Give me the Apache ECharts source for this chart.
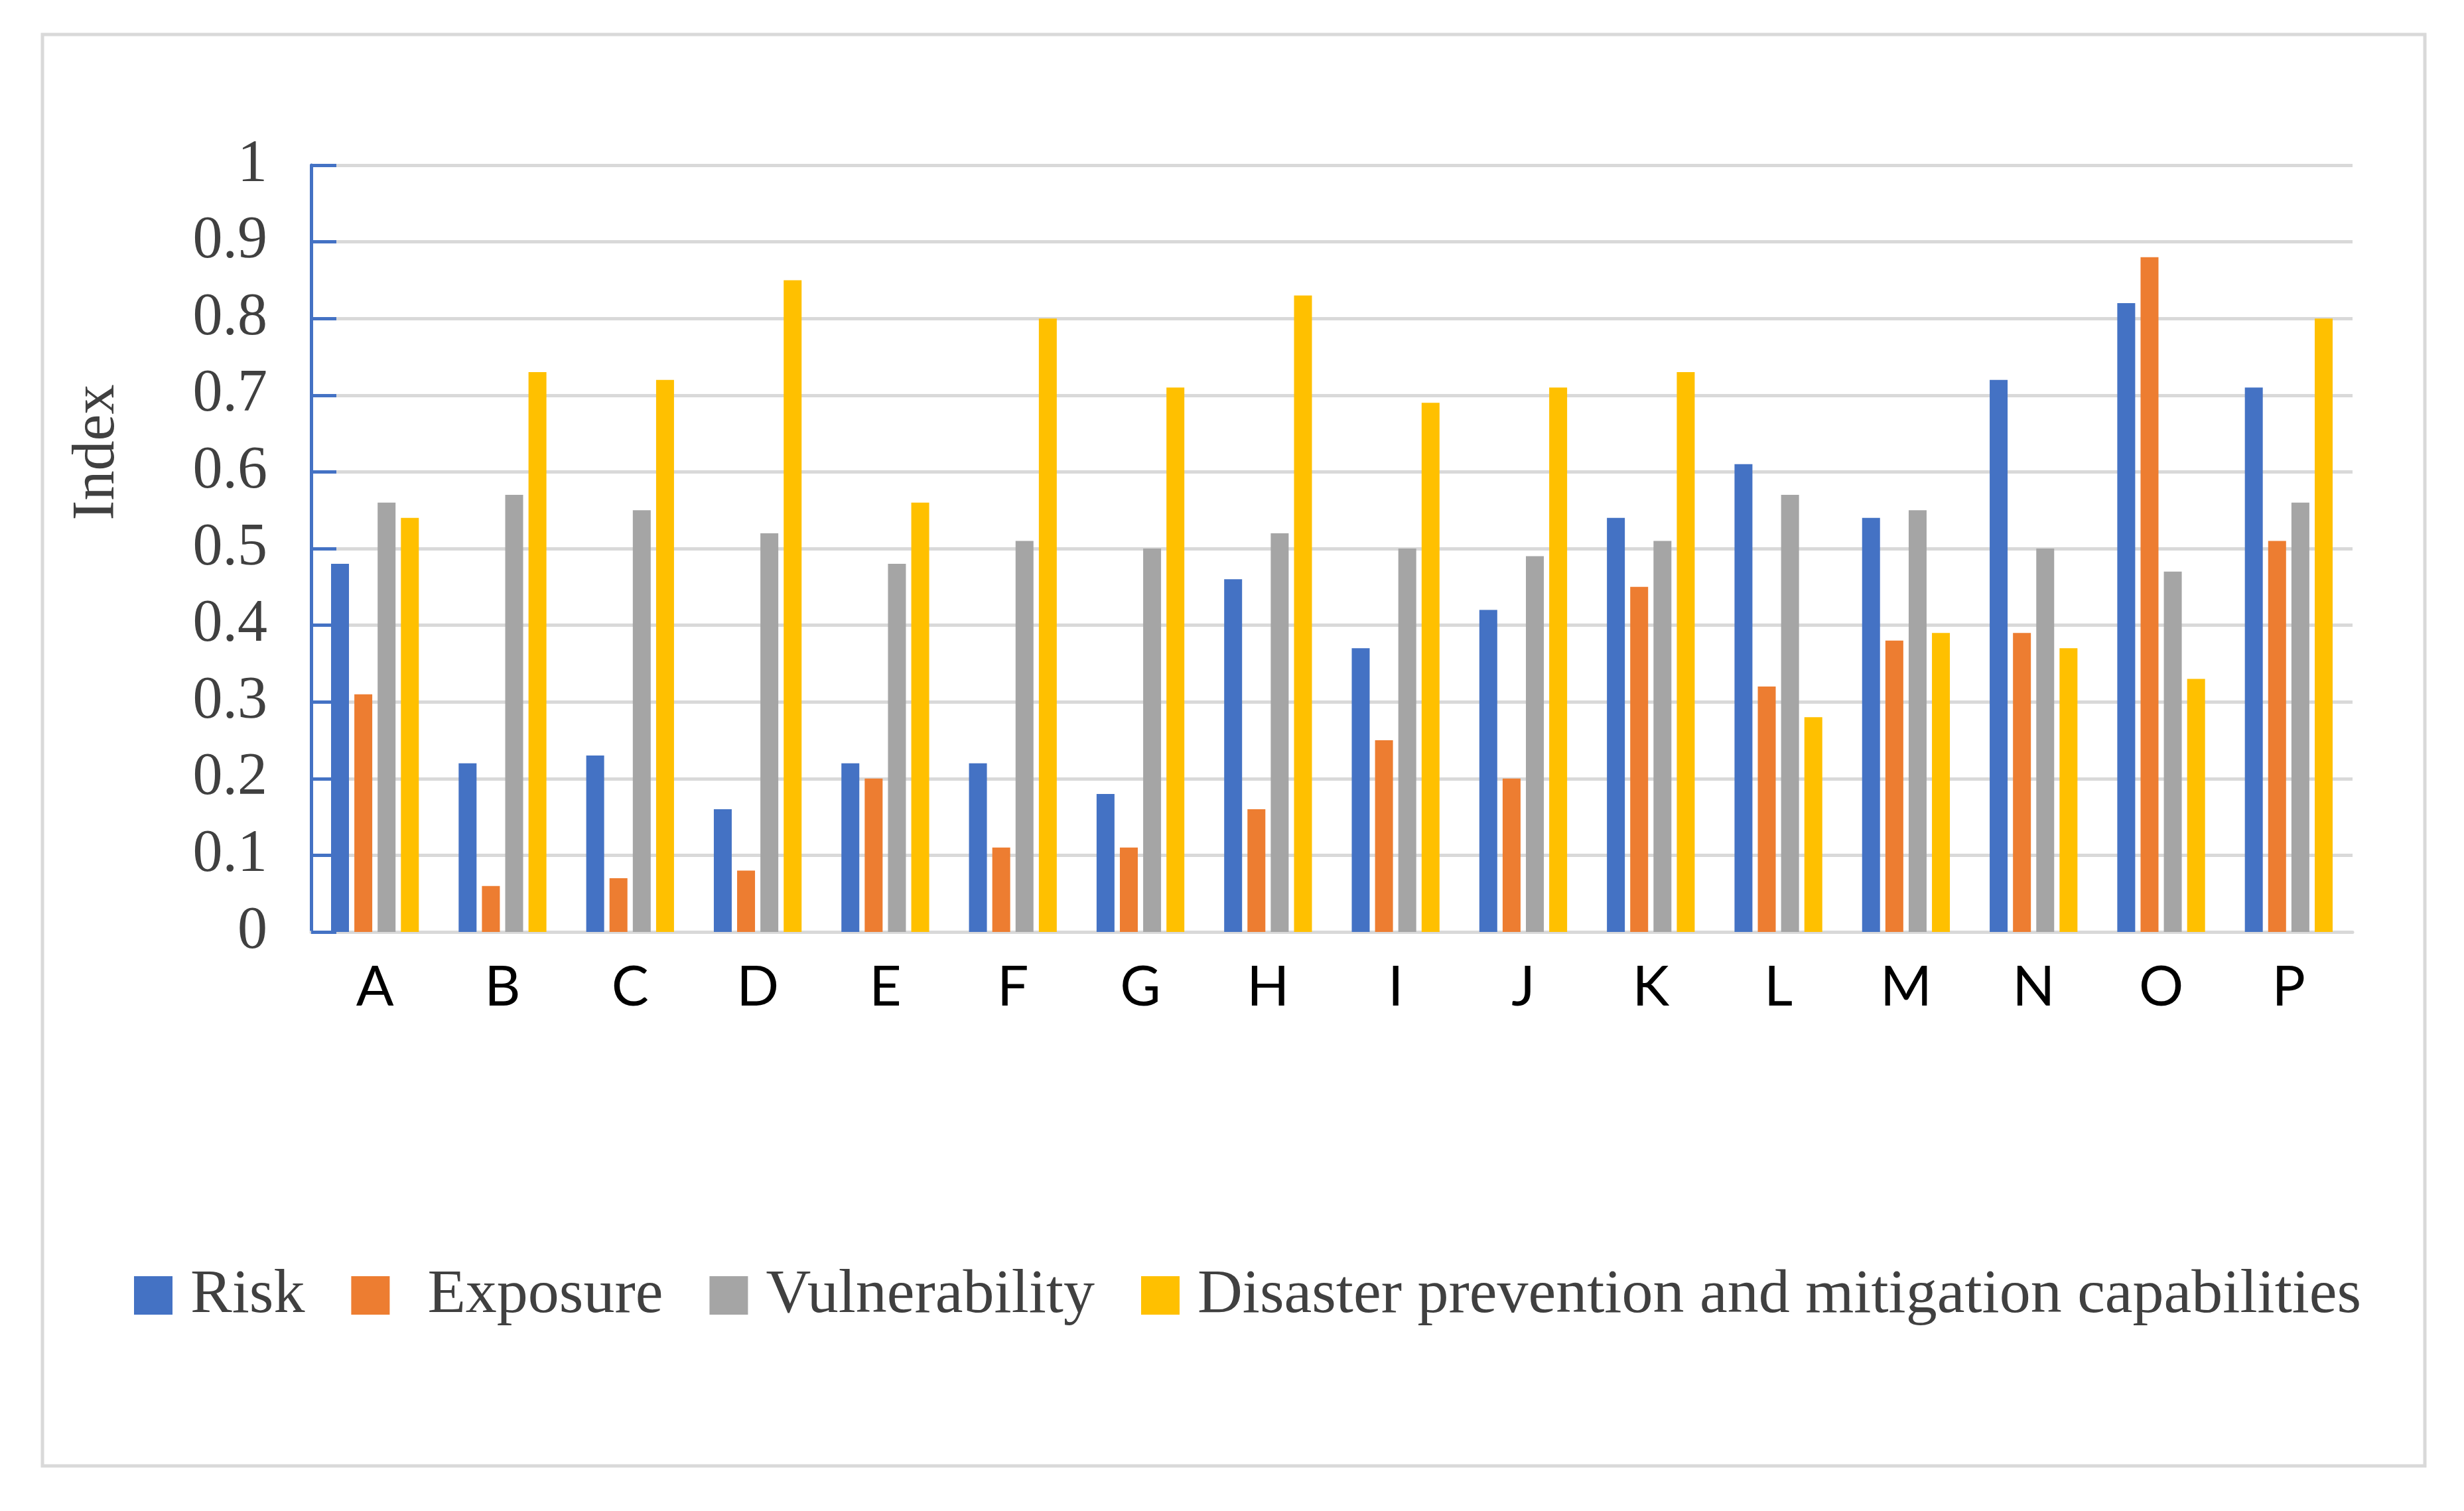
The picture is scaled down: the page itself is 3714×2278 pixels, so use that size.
<!DOCTYPE html>
<html>
<head>
<meta charset="utf-8">
<script src="https://cdn.jsdelivr.net/npm/echarts@6/dist/echarts.min.js"></script>
<style>
  html, body { margin: 0; padding: 0; background: #fff; }
  #chart { width: 3714px; height: 2278px; }
</style>
</head>
<body>
<div id="chart"></div>
<script>
// categories and series values
var regions = ['A','B','C','D','E','F','G','H','I','J','K','L','M','N','O','P'];
var risk          = [0.48,0.22,0.23,0.16,0.22,0.22,0.18,0.46,0.37,0.42,0.54,0.61,0.54,0.72,0.82,0.71];
var exposure      = [0.31,0.06,0.07,0.08,0.20,0.11,0.11,0.16,0.25,0.20,0.45,0.32,0.38,0.39,0.88,0.51];
var vulnerability = [0.56,0.57,0.55,0.52,0.48,0.51,0.50,0.52,0.50,0.49,0.51,0.57,0.55,0.50,0.47,0.56];
var capability    = [0.54,0.73,0.72,0.85,0.56,0.80,0.71,0.83,0.69,0.71,0.73,0.28,0.39,0.37,0.33,0.80];
var seriesNames = ['Risk','Exposure','Vulnerability','Disaster prevention and mitigation capabilities'];
var colors = ['#4472C4','#ED7D31','#A5A5A5','#FFC000'];

var serif = '"Liberation Serif", "DejaVu Serif", serif';
var chart = echarts.init(document.getElementById('chart'));

function bar(name, data){
  return {
    name: name,
    type: 'bar',
    data: data,
    barWidth: 27,
    barGap: '30%',
    animation: false
  };
}

var option = {
  color: colors,
  animation: false,
  grid: { left: 469, right: 168, top: 249, bottom: 873, containLabel: false },
  graphic: [
    {
      type: 'rect',
      shape: { x: 64, y: 52, width: 3591, height: 2158 },
      style: { fill: 'none', stroke: '#D9D9D9', lineWidth: 5 },
      silent: true
    },
    {
      type: 'text',
      x: 147, y: 682,
      rotation: Math.PI / 2,
      style: {
        text: 'Index',
        font: '90px ' + serif,
        fill: '#404040',
        textAlign: 'center',
        textVerticalAlign: 'middle'
      }
    }
  ],
  legend: {
    left: 197,
    top: 1901,
    icon: 'rect',
    itemWidth: 58,
    itemHeight: 58,
    itemGap: 70,
    textStyle: { fontFamily: serif, fontSize: 94, color: '#404040', padding: [0,0,0,22] },
    data: [
      { name: seriesNames[0] },
      { name: seriesNames[1], textStyle: { padding: [0,0,0,52] } },
      { name: seriesNames[2] },
      { name: seriesNames[3] }
    ]
  },
  xAxis: {
    type: 'category',
    data: regions,
    axisLine: { show: true, lineStyle: { color: '#D9D9D9', width: 5 } },
    axisTick: { show: false },
    axisLabel: { fontFamily: 'Lato, "Open Sans", sans-serif', fontSize: 84, color: '#000', margin: 42 }
  },
  yAxis: {
    type: 'value',
    min: 0,
    max: 1,
    interval: 0.1,
    axisLine: { show: true, lineStyle: { color: '#4472C4', width: 5 } },
    axisTick: { show: true, inside: true, length: 38, lineStyle: { color: '#4472C4', width: 5 } },
    axisLabel: { fontFamily: serif, fontSize: 90, color: '#404040', margin: 66 },
    splitLine: { show: true, lineStyle: { color: '#D9D9D9', width: 5 } }
  },
  series: [
    bar(seriesNames[0], risk),
    bar(seriesNames[1], exposure),
    bar(seriesNames[2], vulnerability),
    bar(seriesNames[3], capability)
  ]
};
chart.setOption(option);
</script>
</body>
</html>
